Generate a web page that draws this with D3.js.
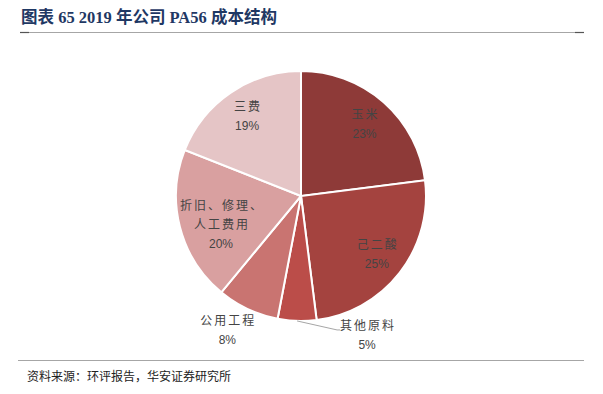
<!DOCTYPE html>
<html lang="zh">
<head>
<meta charset="UTF-8">
<title>PA56 成本结构</title>
<script src="https://d3js.org/d3.v7.min.js"></script>
<style>
    body { margin: 0; background: #fff; }
    svg { display: block; }
    .title { font-family: "Liberation Serif", "Noto Sans CJK SC", serif; font-weight: bold; font-size: 16.5px; fill: #1f3864; }
    .source { font-family: "Noto Sans CJK SC", sans-serif; font-size: 12px; fill: #222; }
    .lbl { font-family: "Noto Sans CJK SC", sans-serif; font-size: 12px; fill: #444; }
    .pct { font-family: "Liberation Sans", Arial, sans-serif; font-size: 12px; fill: #444; }
</style>
</head>
<body>
<script>
// data
const categories = ["玉米", "己二酸", "其他原料", "公用工程", "折旧、修理、人工费用", "三费"];
const shares = [23, 25, 5, 8, 20, 19];
const colors = ["#8e3a38", "#a4433f", "#bb4d49", "#c97471", "#d9a0a0", "#e5c5c6"];

const W = 603, H = 394;
const cx = 301, cy = 196, R = 125;

const svg = d3.select("body").append("svg").attr("width", W).attr("height", H);

// title + rules
svg.append("text").attr("class", "title").attr("x", 21).attr("y", 23)
    .text("图表 65 2019 年公司 PA56 成本结构");
svg.append("line").attr("x1", 20).attr("x2", 584).attr("y1", 32.5).attr("y2", 32.5)
    .attr("stroke", "#a6a6a6").attr("stroke-width", 1.2);
svg.append("line").attr("x1", 20).attr("x2", 29).attr("y1", 32.5).attr("y2", 32.5)
    .attr("stroke", "#555").attr("stroke-width", 1.2);
svg.append("line").attr("x1", 575).attr("x2", 584).attr("y1", 32.5).attr("y2", 32.5)
    .attr("stroke", "#555").attr("stroke-width", 1.2);
svg.append("line").attr("x1", 18).attr("x2", 584).attr("y1", 360.5).attr("y2", 360.5)
    .attr("stroke", "#a6a6a6").attr("stroke-width", 1.2);
svg.append("text").attr("class", "source").attr("x", 27).attr("y", 381)
    .text("资料来源：环评报告，华安证券研究所");

// pie
const data = categories.map((c, i) => ({ name: c, value: shares[i], color: colors[i] }));
const pie = d3.pie().value(d => d.value).sort(null);
const arcs = pie(data);
const arc = d3.arc().innerRadius(0).outerRadius(R);
const g = svg.append("g").attr("transform", `translate(${cx},${cy})`);

g.selectAll("path").data(arcs).enter().append("path")
    .attr("d", arc)
    .attr("fill", d => d.data.color)
    .attr("stroke", "#fff")
    .attr("stroke-width", 2);

const inner = d3.arc().innerRadius(96).outerRadius(96);
const outer = d3.arc().innerRadius(152).outerRadius(152);
const edge = d3.arc().innerRadius(R).outerRadius(R);

arcs.forEach((d, i) => {
    const name = d.data.name;
    const pct = d.data.value + "%";
    let lines;
    if (name.length > 6) lines = ["折旧、修理、", "人工费用"];
    else lines = [name];
    let x, y, anchor = "middle";
    if (name === "公用工程") {
        [x, y] = outer.centroid(d);
        x -= 9; y -= 3;
    } else if (name === "其他原料") {
        const [ex, ey] = edge.centroid(d);
        const lx = ex + 40, ly = ey + 9;
        g.append("polyline")
            .attr("points", `${ex},${ey} ${lx},${ly} ${lx + 3},${ly}`)
            .attr("fill", "none").attr("stroke", "#a6a6a6").attr("stroke-width", 1);
        x = lx + 30; y = ly + 6;
    } else {
        [x, y] = inner.centroid(d);
        if (lines.length > 1) { x += 13; y += 5; }
    }
    const lh = 19;
    const top = y - (lines.length) * lh / 2 + 4;
    lines.forEach((t, k) => {
        g.append("text").attr("class", "lbl").attr("x", x).attr("dx", 1).attr("y", top + k * lh)
            .attr("text-anchor", anchor).attr("letter-spacing", "2px").text(t);
    });
    g.append("text").attr("class", "pct").attr("x", x).attr("y", top + lines.length * lh)
        .attr("text-anchor", anchor).text(pct);
});
</script>
</body>
</html>
